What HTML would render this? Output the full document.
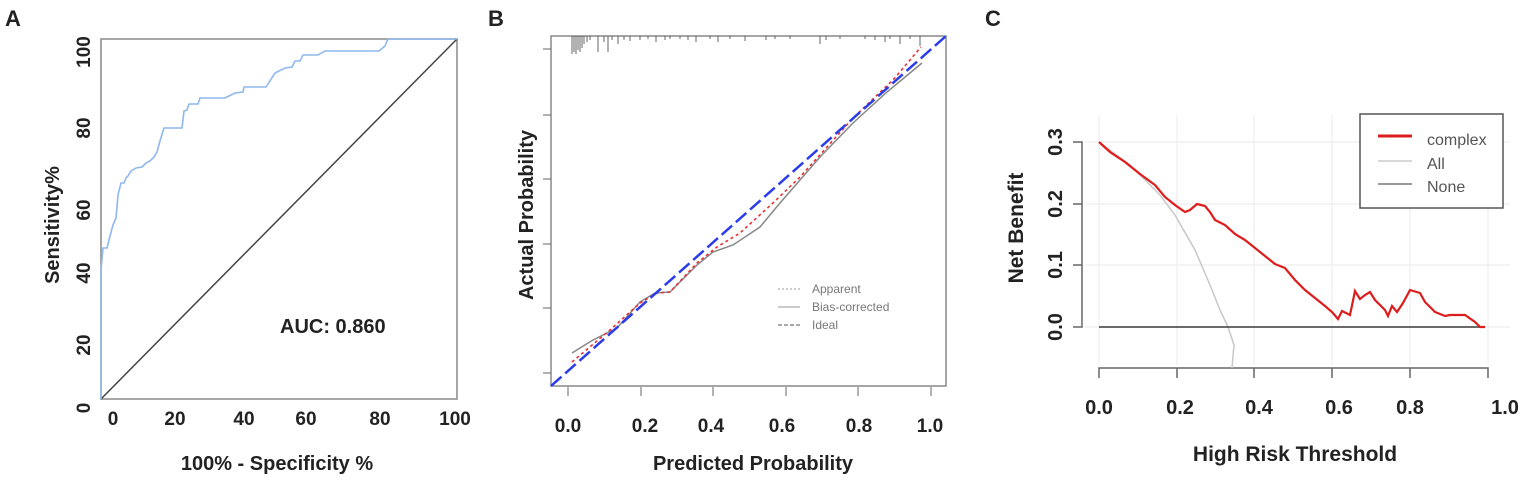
<!DOCTYPE html>
<html><head><meta charset="utf-8"><style>
body{margin:0;background:#fff;}
svg{display:block;font-family:"Liberation Sans",Arial,sans-serif;}
.b{font-weight:bold;fill:#222;}
</style></head><body>
<svg width="1535" height="487" viewBox="0 0 1535 487">
<!-- Panel A -->
<text x="5" y="26" class="b" font-size="22">A</text>
<rect x="101" y="39" width="356" height="360" fill="none" stroke="#888" stroke-width="1.5"/>
<line x1="101" y1="399" x2="457" y2="39" stroke="#444" stroke-width="1.5"/>
<polyline fill="none" stroke="#8fb8ee" stroke-width="1.6" points="101,399 101,270 103,248 107,248 109,240 113,225 116,218 118,195 121,183 124,183 126,178 128,176 131,171 136,168 142,167 146,163 150,161 154,157 157,152 160,141 164,128 172,128 182,128 184,111 187,110 189,104 198,104 200,98 225,98 235,93 243,92 244,87 266,87 275,73 285,68 292,67 295,61 300,61 303,55 318,55 325,51 379,51 385,46 388,39 457,39"/>
<g class="b" font-size="19" text-anchor="middle">
<text x="113" y="425">0</text><text x="175" y="425">20</text><text x="244" y="425">40</text><text x="306" y="425">60</text><text x="380" y="425">80</text><text x="455" y="425">100</text>
<g transform="rotate(-90)">
<text x="-52" y="90">100</text><text x="-128" y="90">80</text><text x="-210" y="90">60</text><text x="-273" y="90">40</text><text x="-345" y="90">20</text><text x="-408" y="90">0</text>
<text x="-225" y="59" font-size="20">Sensitivity%</text>
</g>
<text x="277" y="470" font-size="20">100% - Specificity %</text>
</g>
<text x="280" y="333" class="b" font-size="20">AUC: 0.860</text>

<!-- Panel B -->
<text x="488" y="26" class="b" font-size="22">B</text>
<rect x="551" y="36" width="395" height="350" fill="none" stroke="#888" stroke-width="1.5"/>
<g stroke="#666" stroke-width="1">
<line x1="543" y1="49" x2="551" y2="49"/><line x1="543" y1="115" x2="551" y2="115"/><line x1="543" y1="179" x2="551" y2="179"/><line x1="543" y1="244" x2="551" y2="244"/><line x1="543" y1="308" x2="551" y2="308"/><line x1="543" y1="373" x2="551" y2="373"/>
<line x1="568" y1="387" x2="568" y2="396"/><line x1="641" y1="387" x2="641" y2="396"/><line x1="713" y1="387" x2="713" y2="396"/><line x1="786" y1="387" x2="786" y2="396"/><line x1="858" y1="387" x2="858" y2="396"/><line x1="931" y1="387" x2="931" y2="396"/>
</g>
<g stroke="#555" stroke-width="0.9">
<path d="M572,36v18M574,36v16M576,36v18M578,36v14M580,36v16M582,36v12M584,36v8M587,36v6M590,36v4M598,36v16M604,36v6M608,36v16M612,36v4M618,36v8M624,36v4M630,36v5M640,36v4M648,36v3M656,36v6M665,36v4M670,36v3M680,36v3M688,36v4M696,36v6M710,36v3M718,36v6M730,36v3M745,36v5M766,36v4M775,36v3M790,36v3M820,36v8M826,36v4M840,36v3M865,36v3M875,36v4M885,36v6M890,36v3M900,36v8M910,36v3M920,36v10"/>
</g>
<polyline fill="none" stroke="#888" stroke-width="1.5" points="572,353 593,340 617,328 640,302 655,293 670,292 697,265 713,252 733,245 760,227 780,203 800,180 820,157 853,123 887,92 922,63"/>
<polyline fill="none" stroke="#e83030" stroke-width="1.6" stroke-dasharray="3,3" points="572,362 610,330 640,303 657,293 670,292 697,263 717,247 740,233 773,203 800,177 827,147 853,118 893,80 921,47"/>
<line x1="551" y1="386" x2="946" y2="36" stroke="#2a3de8" stroke-width="2.5" stroke-dasharray="14,5"/>
<g stroke="#999"><line x1="778" y1="289" x2="800" y2="289" stroke-dasharray="2,2"/><line x1="778" y1="307" x2="800" y2="307"/><line x1="778" y1="325" x2="800" y2="325" stroke-dasharray="4,2" stroke="#555"/></g>
<g fill="#777" font-size="12"><text x="812" y="293">Apparent</text><text x="812" y="311">Bias-corrected</text><text x="812" y="329">Ideal</text></g>
<g class="b" font-size="19" text-anchor="middle">
<text x="568" y="432">0.0</text><text x="645" y="432">0.2</text><text x="711" y="432">0.4</text><text x="782" y="432">0.6</text><text x="859" y="432">0.8</text><text x="930" y="432">1.0</text>
<text x="753" y="470" font-size="20">Predicted Probability</text>
<text transform="rotate(-90)" x="-215" y="533" font-size="20">Actual Probability</text>
</g>

<!-- Panel C -->
<text x="985" y="26" class="b" font-size="22">C</text>
<g stroke="#eee" stroke-width="1.2">
<line x1="1099" y1="115" x2="1099" y2="365"/><line x1="1177" y1="115" x2="1177" y2="365"/><line x1="1254" y1="115" x2="1254" y2="365"/><line x1="1332" y1="115" x2="1332" y2="365"/><line x1="1410" y1="115" x2="1410" y2="365"/><line x1="1488" y1="115" x2="1488" y2="365"/>
<line x1="1085" y1="142" x2="1510" y2="142"/><line x1="1085" y1="204" x2="1510" y2="204"/><line x1="1085" y1="265" x2="1510" y2="265"/><line x1="1085" y1="327" x2="1510" y2="327"/>
</g>
<g stroke="#666" stroke-width="1.5" fill="none">
<path d="M1099,378V368H1488V378M1177,368v10M1254,368v10M1332,368v10M1410,368v10"/>
<path d="M1073,142H1082V327H1073M1073,204h9M1073,265h9"/>
</g>
<polyline fill="none" stroke="#c8c8c8" stroke-width="1.5" points="1099,142 1130,165 1160,195 1175,215 1195,250 1210,285 1220,310 1228,327 1234,345 1232,368"/>
<line x1="1099" y1="327" x2="1485" y2="327" stroke="#555" stroke-width="1.8"/>
<polyline fill="none" stroke="#dd1c1c" stroke-width="2.2" points="1099,142 1110,152 1125,162 1140,174 1155,185 1165,197 1175,205 1185,212 1190,210 1197,204 1205,206 1210,212 1215,220 1225,225 1235,234 1245,240 1255,248 1265,256 1275,264 1285,268 1295,280 1305,290 1315,298 1325,306 1332,312 1338,319 1342,311 1350,315 1355,291 1360,299 1365,295 1370,292 1375,300 1380,305 1385,310 1388,316 1392,306 1397,312 1403,303 1410,290 1420,293 1425,302 1435,312 1445,316 1450,315 1465,315 1475,322 1480,327 1485,327"/>
<rect x="1360" y="114" width="143" height="94" fill="#fff" stroke="#555" stroke-width="1.5"/>
<line x1="1378" y1="136" x2="1412" y2="136" stroke="#dd1c1c" stroke-width="3"/>
<line x1="1378" y1="161" x2="1412" y2="161" stroke="#ccc" stroke-width="1.5"/>
<line x1="1378" y1="184" x2="1412" y2="184" stroke="#777" stroke-width="1.5"/>
<g fill="#555" font-size="16"><text x="1427" y="145">complex</text><text x="1427" y="169">All</text><text x="1427" y="192">None</text></g>
<g class="b" font-size="20" text-anchor="middle">
<text x="1099" y="414">0.0</text><text x="1180" y="414">0.2</text><text x="1259" y="414">0.4</text><text x="1339" y="414">0.6</text><text x="1410" y="414">0.8</text><text x="1505" y="414">1.0</text>
<g transform="rotate(-90)"><text x="-142" y="1062">0.3</text><text x="-204" y="1062">0.2</text><text x="-265" y="1062">0.1</text><text x="-327" y="1062">0.0</text>
<text x="-228" y="1023" font-size="21">Net Benefit</text></g>
<text x="1295" y="461" font-size="21">High Risk Threshold</text>
</g>
</svg>
</body></html>
